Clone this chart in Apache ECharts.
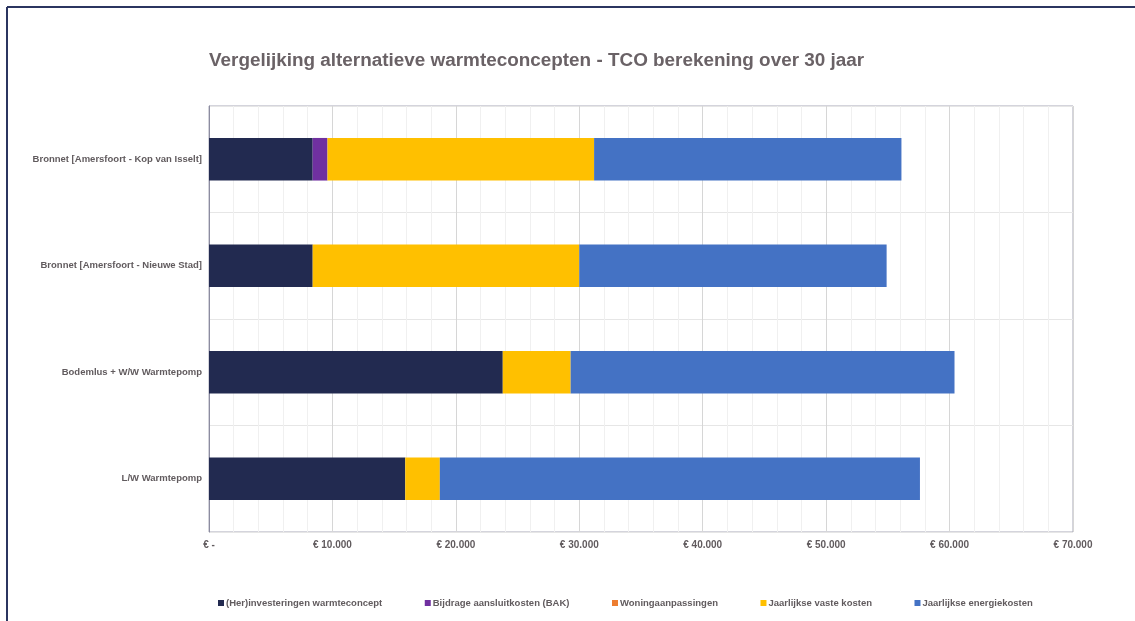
<!DOCTYPE html>
<html>
<head>
<meta charset="utf-8">
<script src="https://cdn.jsdelivr.net/npm/echarts@6/dist/echarts.min.js"></script>
<style>
  html, body { margin: 0; padding: 0; background: #ffffff; }
  #chart { width: 1135px; height: 621px; }
</style>
</head>
<body>
<div id="chart"></div>
<script>
// Heat concepts compared (top to bottom)
const categories = [
  'Bronnet [Amersfoort - Kop van Isselt]',
  'Bronnet [Amersfoort - Nieuwe Stad]',
  'Bodemlus + W/W Warmtepomp',
  'L/W Warmtepomp'
];

// Cost components in euro, one value per concept
const herinvesteringen = [8400, 8400, 23800, 15900];
const bijdrageBAK = [1200, 0, 0, 0];
const woningaanpassingen = [0, 0, 0, 0];
const vasteKosten = [21600, 21600, 5500, 2800];
const energieKosten = [24900, 24900, 31100, 38900];

const seriesNames = [
  '(Her)investeringen warmteconcept',
  'Bijdrage aansluitkosten (BAK)',
  'Woningaanpassingen',
  'Jaarlijkse vaste kosten',
  'Jaarlijkse energiekosten'
];
const seriesValues = [herinvesteringen, bijdrageBAK, woningaanpassingen, vasteKosten, energieKosten];
const seriesColors = ['#222a50', '#7030a0', '#ed7d31', '#ffc000', '#4472c4'];

const textColor = '#615b5e';
const fontFamily = '"Liberation Sans", Arial, sans-serif';

function euro(v) {
  if (v === 0) return '€ -';
  return '€ ' + String(v).replace(/\B(?=(\d{3})+(?!\d))/g, '.');
}

const chart = echarts.init(document.getElementById('chart'), null, { renderer: 'canvas' });

chart.setOption({
  animation: false,
  backgroundColor: '#ffffff',
  textStyle: { fontFamily: fontFamily },
  title: {
    text: 'Vergelijking alternatieve warmteconcepten - TCO berekening over 30 jaar',
    left: 204,
    top: 46,
    textStyle: { fontSize: 18.9, fontWeight: 'bold', color: '#6a6266', fontFamily: fontFamily }
  },
  graphic: [
    // Document frame around the chart
    { type: 'line', shape: { x1: 7, y1: 7, x2: 1135, y2: 7 }, style: { stroke: '#2b3560', lineWidth: 2 } },
    { type: 'line', shape: { x1: 7, y1: 7, x2: 7, y2: 621 }, style: { stroke: '#2b3560', lineWidth: 2 } }
  ],
  legend: {
    bottom: 8,
    left: 213,
    itemWidth: 6,
    itemHeight: 6,
    itemGap: 42.5,
    icon: 'rect',
    textStyle: { fontSize: 9.5, fontWeight: 'bold', color: textColor, fontFamily: fontFamily, padding: [0, 0, 0, -3] },
    data: seriesNames
  },
  grid: {
    left: 209,
    right: 62,
    top: 106,
    bottom: 89,
    show: true,
    borderColor: '#a9a9b8',
    borderWidth: 1
  },
  xAxis: {
    type: 'value',
    min: 0,
    max: 70000,
    interval: 10000,
    axisLine: { show: false },
    axisTick: { show: false },
    axisLabel: {
      formatter: euro,
      fontSize: 10,
      fontWeight: 'bold',
      color: textColor,
      margin: 8
    },
    splitLine: { show: true, lineStyle: { color: '#d6d6d6', width: 1 } },
    minorTick: { show: false, splitNumber: 5 },
    minorSplitLine: { show: true, lineStyle: { color: '#f0f0f0', width: 1 } }
  },
  yAxis: {
    type: 'category',
    inverse: true,
    data: categories,
    axisLine: { show: true, lineStyle: { color: '#8c8ca0', width: 1 } },
    axisTick: { show: false },
    axisLabel: { fontSize: 9.5, fontWeight: 'bold', color: textColor, margin: 7 },
    splitLine: { show: true, lineStyle: { color: '#e6e6e6', width: 1 } }
  },
  series: seriesNames.map((name, i) => ({
    name: name,
    type: 'bar',
    stack: 'tco',
    barWidth: '40%',
    itemStyle: { color: seriesColors[i] },
    data: seriesValues[i]
  }))
});
</script>
</body>
</html>
